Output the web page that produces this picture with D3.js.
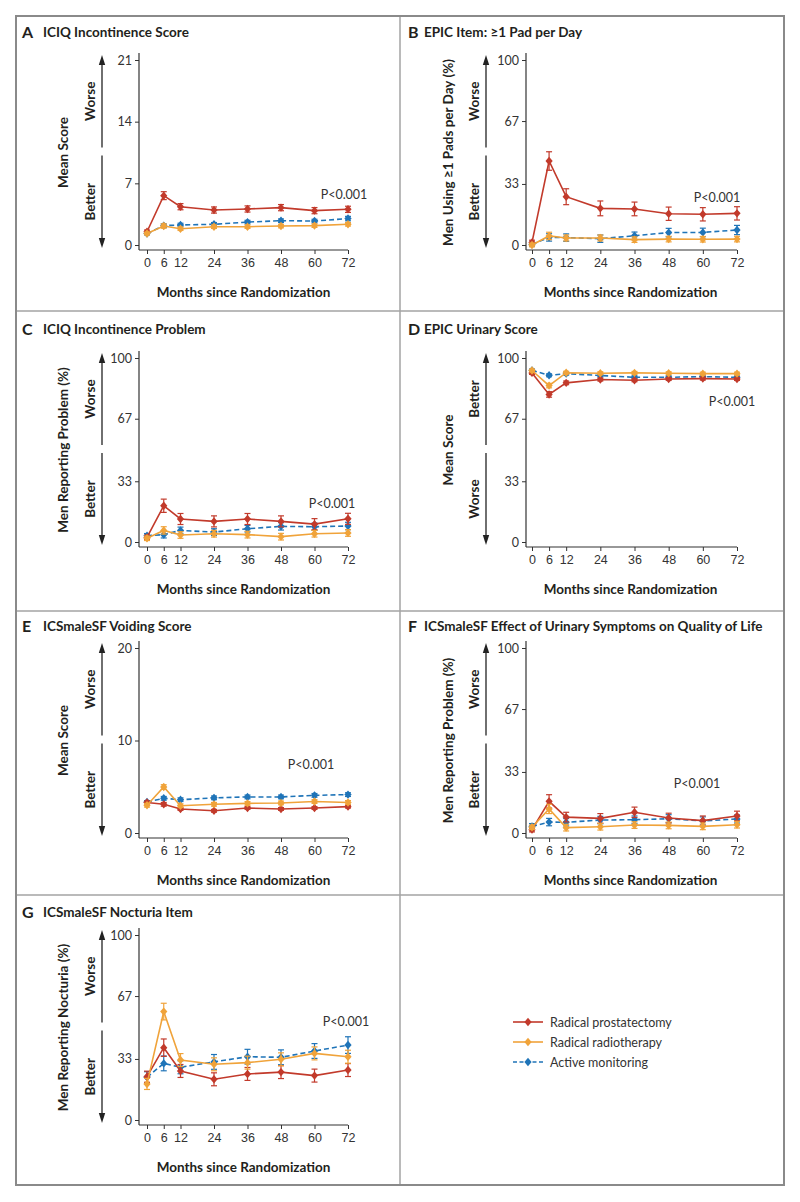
<!DOCTYPE html>
<html>
<head>
<meta charset="utf-8">
<script src="https://cdn.jsdelivr.net/npm/d3@7"></script>
<style>
  html, body { margin: 0; padding: 0; background: #fff; }
  svg { display: block; font-family: Lato, "Open Sans", sans-serif; }
</style>
</head>
<body>
<svg id="chart" width="800" height="1202"></svg>
<script>
// ---------------- DATA ----------------
const months = [0, 6, 12, 24, 36, 48, 60, 72];
const seriesNames = ["Radical prostatectomy", "Radical radiotherapy", "Active monitoring"];

// A  ICIQ Incontinence Score
const aProst = [1.5, 5.6, 4.35, 3.97, 4.09, 4.24, 3.9, 4.05];
const aRadio = [1.3, 2.15, 1.85, 2.08, 2.08, 2.15, 2.2, 2.35];
const aMonit = [1.3, 2.2, 2.27, 2.35, 2.6, 2.76, 2.72, 3.0];
const aProstErr = [0.2, 0.45, 0.35, 0.35, 0.35, 0.35, 0.35, 0.35];
const aRadioErr = [0.15, 0.25, 0.2, 0.2, 0.2, 0.2, 0.2, 0.2];
const aMonitErr = [0.15, 0.2, 0.2, 0.2, 0.2, 0.2, 0.2, 0.25];

// B  EPIC item: >=1 pad per day (%)
const bProst = [1.4, 45.4, 26.1, 19.8, 19.5, 16.9, 16.6, 17.1];
const bRadio = [0, 4.9, 3.8, 3.8, 2.9, 3.2, 3.1, 3.2];
const bMonit = [0.4, 4.1, 4.0, 3.4, 5.0, 6.7, 6.8, 8.1];
const bProstErr = [1.2, 5.0, 4.3, 4.0, 3.7, 3.6, 3.6, 3.6];
const bRadioErr = [1.0, 2.0, 1.6, 1.6, 1.5, 1.5, 1.5, 1.5];
const bMonitErr = [1.0, 2.0, 2.0, 2.0, 2.0, 2.3, 2.3, 2.5];

// C  ICIQ Incontinence Problem (%)
const cProst = [2.5, 19.7, 12.5, 11.2, 12.5, 11.2, 9.7, 12.6];
const cRadio = [2.0, 6.3, 3.8, 4.5, 4.0, 2.9, 4.5, 4.9];
const cMonit = [3.4, 4.0, 6.3, 5.4, 7.2, 8.5, 8.3, 8.7];
const cProstErr = [1.2, 3.6, 3.0, 3.0, 3.0, 3.0, 3.0, 3.0];
const cRadioErr = [1.2, 2.0, 1.8, 1.8, 1.8, 1.8, 1.8, 1.8];
const cMonitErr = [1.2, 1.8, 1.8, 1.8, 1.8, 2.0, 2.0, 2.0];

// D  EPIC Urinary Score
const dProst = [91.9, 80.2, 86.5, 88.3, 87.9, 88.6, 88.8, 88.6];
const dRadio = [93.2, 85.0, 92.0, 91.7, 91.9, 91.7, 91.5, 91.5];
const dMonit = [93.3, 90.6, 91.5, 90.5, 89.5, 89.5, 89.9, 89.5];
const dProstErr = [0.8, 1.5, 1.0, 0.8, 0.8, 0.8, 0.8, 0.8];
const dRadioErr = [0.7, 1.2, 0.8, 0.8, 0.8, 0.8, 0.8, 0.8];
const dMonitErr = [0.7, 0.8, 0.8, 0.8, 0.8, 0.8, 0.8, 0.8];

// E  ICSmaleSF Voiding Score
const eProst = [3.3, 3.1, 2.6, 2.4, 2.7, 2.6, 2.7, 2.85];
const eRadio = [3.0, 4.97, 2.95, 3.1, 3.2, 3.25, 3.4, 3.3];
const eMonit = [3.35, 3.75, 3.6, 3.8, 3.9, 3.9, 4.07, 4.15];
const eProstErr = [0.15, 0.2, 0.15, 0.15, 0.15, 0.15, 0.15, 0.15];
const eRadioErr = [0.2, 0.25, 0.2, 0.2, 0.2, 0.2, 0.2, 0.2];
const eMonitErr = [0.15, 0.2, 0.2, 0.2, 0.2, 0.2, 0.2, 0.2];

// F  ICSmaleSF effect of urinary symptoms on QoL (%)
const fProst = [1.8, 17.1, 8.6, 7.9, 11.2, 8.1, 6.7, 9.2];
const fRadio = [3.1, 13.0, 2.9, 3.4, 4.3, 4.1, 3.6, 4.5];
const fMonit = [3.6, 5.9, 5.8, 7.0, 7.2, 7.7, 6.5, 7.6];
const fProstErr = [1.2, 3.6, 2.6, 2.6, 2.8, 2.6, 2.5, 2.6];
const fRadioErr = [1.2, 2.5, 1.8, 1.8, 1.8, 1.8, 1.8, 1.8];
const fMonitErr = [1.5, 2.0, 2.0, 2.0, 2.0, 2.2, 2.2, 2.2];

// G  ICSmaleSF Nocturia Item (%)
const gProst = [23.4, 39.1, 26.5, 22.0, 24.9, 25.9, 24.0, 27.0];
const gRadio = [19.5, 58.6, 32.4, 30.1, 31.0, 32.8, 36.0, 34.2];
const gMonit = [23.1, 30.6, 28.5, 31.4, 34.2, 33.9, 37.3, 40.5];
const gProstErr = [3.0, 4.7, 3.5, 3.5, 3.5, 3.5, 3.5, 3.5];
const gRadioErr = [3.0, 4.5, 3.5, 3.5, 3.5, 3.5, 3.5, 3.5];
const gMonitErr = [3.0, 4.0, 3.5, 4.0, 4.0, 4.0, 4.0, 4.5];

// Tick labels
const ticksScore21 = [0, 7, 14, 21];
const ticksPct = [0, 33, 67, 100];
const ticksScore20 = [0, 10, 20];

const pLabel = "P<0.001";
const xTitle = "Months since Randomization";

// ---------------- STYLE / LAYOUT ----------------
const colors = { prost: "#c23a2b", radio: "#f0a33a", monit: "#1f74b8" };

const cols = [
  { axisX: 139, x0: 147, x1: 348, arrowX: 102, sideX: 90, titleX: 63, letterX: 22, headX: 43 },
  { axisX: 526, x0: 532, x1: 737, arrowX: 486, sideX: 474, titleX: 448, letterX: 408, headX: 424 }
];
const rows = [
  { head: 32, top: 60, zero: 245 },
  { head: 329, top: 358, zero: 542 },
  { head: 626, top: 648, zero: 833 },
  { head: 912, top: 935, zero: 1120 }
];

const panels = [
  { letter: "A", title: "ICIQ Incontinence Score", col: 0, row: 0, max: 21, ticks: ticksScore21,
    ylab: "Mean Score", upIsWorse: true, p: [-4, -51],
    data: [[aMonit, aMonitErr, "monit"], [aProst, aProstErr, "prost"], [aRadio, aRadioErr, "radio"]] },
  { letter: "B", title: "EPIC Item: \u22651 Pad per Day", col: 1, row: 0, max: 100, ticks: ticksPct,
    ylab: "Men Using  \u22651 Pads per Day (%)", upIsWorse: true, p: [-20, -48],
    data: [[bMonit, bMonitErr, "monit"], [bProst, bProstErr, "prost"], [bRadio, bRadioErr, "radio"]] },
  { letter: "C", title: "ICIQ Incontinence Problem", col: 0, row: 1, max: 100, ticks: ticksPct,
    ylab: "Men Reporting Problem (%)", upIsWorse: true, p: [-16, -39],
    data: [[cMonit, cMonitErr, "monit"], [cProst, cProstErr, "prost"], [cRadio, cRadioErr, "radio"]] },
  { letter: "D", title: "EPIC Urinary Score", col: 1, row: 1, max: 100, ticks: ticksPct,
    ylab: "Mean Score", upIsWorse: false, p: [-5, -141],
    data: [[dMonit, dMonitErr, "monit"], [dProst, dProstErr, "prost"], [dRadio, dRadioErr, "radio"]] },
  { letter: "E", title: "ICSmaleSF Voiding Score", col: 0, row: 2, max: 20, ticks: ticksScore20,
    ylab: "Mean Score", upIsWorse: true, p: [-37, -69],
    data: [[eMonit, eMonitErr, "monit"], [eProst, eProstErr, "prost"], [eRadio, eRadioErr, "radio"]] },
  { letter: "F", title: "ICSmaleSF Effect of Urinary Symptoms on Quality of Life", col: 1, row: 2, max: 100, ticks: ticksPct,
    ylab: "Men Reporting Problem (%)", upIsWorse: true, p: [-40, -50],
    data: [[fMonit, fMonitErr, "monit"], [fProst, fProstErr, "prost"], [fRadio, fRadioErr, "radio"]] },
  { letter: "G", title: "ICSmaleSF Nocturia Item", col: 0, row: 3, max: 100, ticks: ticksPct,
    ylab: "Men Reporting Nocturia (%)", upIsWorse: true, p: [-2, -99],
    data: [[gMonit, gMonitErr, "monit"], [gProst, gProstErr, "prost"], [gRadio, gRadioErr, "radio"]] }
];

const svg = d3.select("#chart");

// Frame
const frame = { l: 16, t: 16, r: 784, b: 1185 };
const dividersY = [311, 611, 895];
svg.append("g").selectAll("line").data(dividersY).join("line")
  .attr("x1", frame.l).attr("x2", frame.r).attr("y1", d => d).attr("y2", d => d)
  .attr("stroke", "#a3a3a3").attr("stroke-width", 1.5);
svg.append("line").attr("x1", 400).attr("x2", 400).attr("y1", frame.t).attr("y2", frame.b)
  .attr("stroke", "#a3a3a3").attr("stroke-width", 1.5);
svg.append("rect").attr("x", frame.l).attr("y", frame.t)
  .attr("width", frame.r - frame.l).attr("height", frame.b - frame.t)
  .attr("fill", "none").attr("stroke", "#8a8a8a").attr("stroke-width", 2);

const diamond = "M0,-4.2L3.6,0L0,4.2L-3.6,0Z";
const textColor = "#231f20";

panels.forEach(p => {
  const c = cols[p.col], r = rows[p.row];
  const g = svg.append("g");
  const x = d3.scaleLinear().domain([0, 72]).range([c.x0, c.x1]);
  const y = d3.scaleLinear().domain([0, p.max]).range([r.zero, r.top]);

  // Heading
  g.append("text").attr("x", c.letterX).attr("y", r.head).attr("dy", "0.36em")
    .attr("font-size", 16).attr("font-weight", 700).attr("fill", textColor).text(p.letter);
  g.append("text").attr("x", c.headX).attr("y", r.head).attr("dy", "0.36em")
    .attr("font-size", 13.5).attr("font-weight", 700).attr("fill", textColor).text(p.title);

  // y axis
  const xAxisY = r.zero + 5;
  const yAxis = d3.axisLeft(y).tickValues(p.ticks).tickSize(4).tickPadding(3).tickFormat(d3.format("d"));
  const ya = g.append("g").attr("transform", `translate(${c.axisX},0)`).call(yAxis);
  ya.select(".domain").remove();
  ya.append("line").attr("x1", 0).attr("x2", 0).attr("y1", r.top - 7).attr("y2", xAxisY)
    .attr("stroke", "#333").attr("stroke-width", 1.2);
  ya.selectAll(".tick line").attr("stroke", "#333").attr("stroke-width", 1);
  ya.selectAll(".tick text").attr("font-size", 12.5).attr("fill", "#333")
    .attr("font-family", "Lato, sans-serif");

  // x axis
  const xAxis = d3.axisBottom(x).tickValues(months).tickSize(4).tickPadding(4).tickFormat(d3.format("d"));
  const xa = g.append("g").attr("transform", `translate(0,${xAxisY})`).call(xAxis);
  xa.select(".domain").remove();
  xa.append("line").attr("x1", c.axisX).attr("x2", c.x1).attr("y1", 0).attr("y2", 0)
    .attr("stroke", "#333").attr("stroke-width", 1.2);
  xa.selectAll(".tick line").attr("stroke", "#333");
  xa.selectAll(".tick text").attr("font-size", 12.5).attr("fill", "#333");

  g.append("text").attr("x", (c.x0 + c.x1) / 2 - 4).attr("y", r.zero + 47).attr("dy", "0.36em")
    .attr("text-anchor", "middle").attr("font-size", 13.5).attr("font-weight", 700)
    .attr("fill", textColor).text(xTitle);

  // y title
  const tipTop = r.top - 5, tipBot = r.zero + 3;
  const mid = (tipTop + tipBot) / 2;
  g.append("text").attr("transform", `translate(${c.titleX},${(r.top + r.zero) / 2}) rotate(-90)`)
    .attr("dy", "0.36em").attr("text-anchor", "middle").attr("font-size", 13.5)
    .attr("font-weight", 700).attr("fill", textColor).text(p.ylab);

  // arrows
  const ax = c.arrowX;
  g.append("line").attr("x1", ax).attr("x2", ax).attr("y1", mid - 4).attr("y2", tipTop + 6)
    .attr("stroke", "#222").attr("stroke-width", 1.3);
  g.append("path").attr("d", `M${ax},${tipTop}L${ax - 3.2},${tipTop + 10}L${ax + 3.2},${tipTop + 10}Z`).attr("fill", "#222");
  g.append("line").attr("x1", ax).attr("x2", ax).attr("y1", mid + 4).attr("y2", tipBot - 6)
    .attr("stroke", "#222").attr("stroke-width", 1.3);
  g.append("path").attr("d", `M${ax},${tipBot}L${ax - 3.2},${tipBot - 10}L${ax + 3.2},${tipBot - 10}Z`).attr("fill", "#222");
  const upLab = p.upIsWorse ? "Worse" : "Better";
  const dnLab = p.upIsWorse ? "Better" : "Worse";
  g.append("text").attr("transform", `translate(${c.sideX},${(tipTop + mid - 4) / 2}) rotate(-90)`)
    .attr("dy", "0.36em").attr("text-anchor", "middle").attr("font-size", 13.5)
    .attr("font-weight", 700).attr("fill", textColor).text(upLab);
  g.append("text").attr("transform", `translate(${c.sideX},${(tipBot + mid + 4) / 2}) rotate(-90)`)
    .attr("dy", "0.36em").attr("text-anchor", "middle").attr("font-size", 13.5)
    .attr("font-weight", 700).attr("fill", textColor).text(dnLab);

  // series
  p.data.forEach(([vals, errs, key]) => {
    const col = colors[key];
    const pts = months.map((m, i) => ({ m, v: vals[i], e: errs[i] }));
    const sg = g.append("g");
    sg.append("path").datum(pts)
      .attr("d", d3.line().x(d => x(d.m)).y(d => y(d.v)))
      .attr("fill", "none").attr("stroke", col).attr("stroke-width", 1.6)
      .attr("stroke-dasharray", key === "monit" ? "5,3" : null);
    const eb = sg.selectAll("g.eb").data(pts).join("g").attr("class", "eb");
    eb.append("line").attr("x1", d => x(d.m)).attr("x2", d => x(d.m))
      .attr("y1", d => y(d.v - d.e)).attr("y2", d => y(d.v + d.e))
      .attr("stroke", col).attr("stroke-width", 1.2);
    eb.append("line").attr("x1", d => x(d.m) - 3).attr("x2", d => x(d.m) + 3)
      .attr("y1", d => y(d.v + d.e)).attr("y2", d => y(d.v + d.e))
      .attr("stroke", col).attr("stroke-width", 1.2);
    eb.append("line").attr("x1", d => x(d.m) - 3).attr("x2", d => x(d.m) + 3)
      .attr("y1", d => y(d.v - d.e)).attr("y2", d => y(d.v - d.e))
      .attr("stroke", col).attr("stroke-width", 1.2);
    sg.selectAll("path.mk").data(pts).join("path").attr("class", "mk")
      .attr("d", diamond).attr("transform", d => `translate(${x(d.m)},${y(d.v)})`)
      .attr("fill", col);
  });

  // P value
  g.append("text").attr("x", c.x1 + p.p[0]).attr("y", r.zero + p.p[1]).attr("dy", "0.36em")
    .attr("text-anchor", "middle").attr("font-size", 12.5).attr("fill", "#333").text(pLabel);
});

// Legend
const legendItems = [
  { name: seriesNames[0], key: "prost" },
  { name: seriesNames[1], key: "radio" },
  { name: seriesNames[2], key: "monit" }
];
const lg = svg.append("g").attr("transform", "translate(513,1022)");
const li = lg.selectAll("g").data(legendItems).join("g")
  .attr("transform", (d, i) => `translate(0,${i * 20})`);
li.append("line").attr("x1", 0).attr("x2", 30).attr("y1", 0).attr("y2", 0)
  .attr("stroke", d => colors[d.key]).attr("stroke-width", 1.6)
  .attr("stroke-dasharray", d => d.key === "monit" ? "4,2.5" : null);
li.append("path").attr("d", diamond).attr("transform", "translate(15,0)").attr("fill", d => colors[d.key]);
li.append("text").attr("x", 37).attr("y", 0).attr("dy", "0.36em")
  .attr("font-size", 12.5).attr("fill", "#333").text(d => d.name);
</script>
</body>
</html>
